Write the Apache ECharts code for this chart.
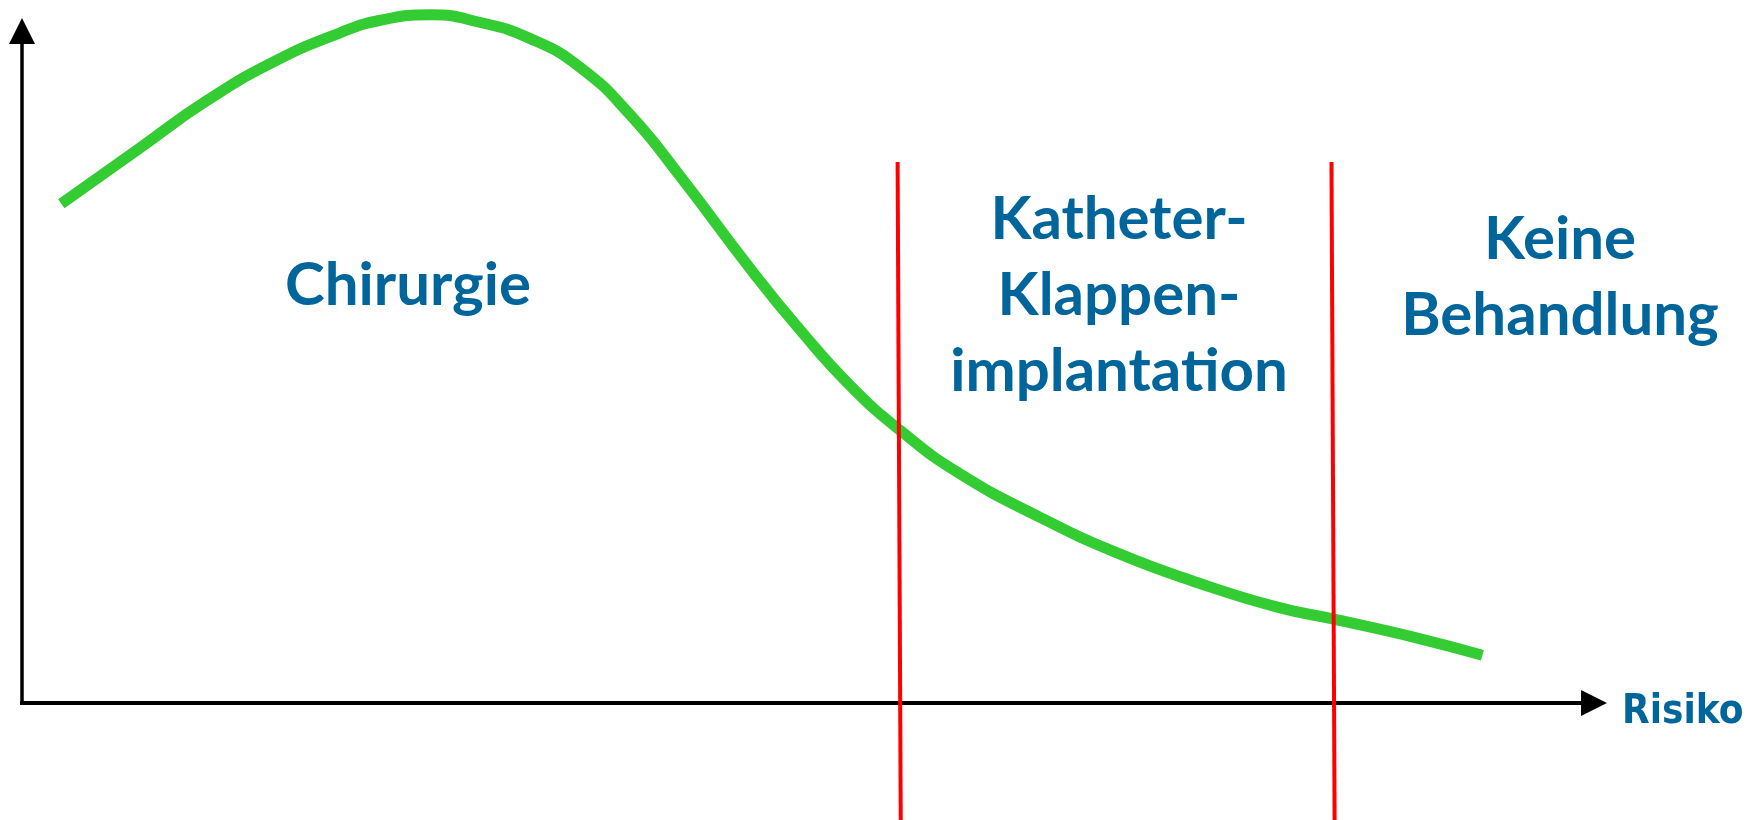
<!DOCTYPE html>
<html>
<head>
<meta charset="utf-8">
<script src="https://cdn.jsdelivr.net/npm/echarts@6/dist/echarts.min.js"></script>
<style>
  html, body { margin: 0; padding: 0; background: #fff; }
  #main { width: 1751px; height: 820px; }
</style>
</head>
<body>
<div id="main"></div>
<script>
// Kurve: Risiko (x) gegen Wert (y), 0..100 in beiden Richtungen
var curveRisk  = [2.5, 7.5, 11.8, 16.0, 20.2, 22.8, 26.0, 29.1, 32.3, 35.5, 38.7, 41.9, 46.3, 49.5, 52.7, 55.9, 59.6, 64.7, 69.7, 74.8, 79.8, 83.6, 88.7, 92.9];
var curveValue = [74.3, 82.6, 89.7, 95.4, 99.7, 101.6, 102.4, 101.3, 98.9, 94.6, 87.5, 78.3, 64.7, 55.5, 47.2, 40.5, 34.2, 27.7, 22.3, 17.9, 14.3, 12.4, 9.7, 7.1];

// Grenzlinien zwischen den Bereichen (oben / unten)
var borderRiskTop    = [55.7, 83.3];
var borderRiskBottom = [55.9, 83.5];
var borderValue      = [80.5, -17.4];

var zoneLabels = ['Chirurgie', 'Katheter-\nKlappen-\nimplantation', 'Keine\nBehandlung'];
var axisName = 'Risiko';

var blue = '#00659a';

var myChart = echarts.init(document.getElementById('main'));

var curveData = curveRisk.map(function (x, i) { return [x, curveValue[i]]; });

var borderSeries = borderRiskTop.map(function (x, i) {
    return {
        type: 'line',
        clip: false,
        symbol: 'none',
        silent: true,
        z: 5,
        lineStyle: { color: '#ff0000', width: 4 },
        data: [[x, borderValue[0]], [borderRiskBottom[i], borderValue[1]]]
    };
});

var labelFont = { fill: blue, fontFamily: 'Lato', fontWeight: 'bold', fontSize: 60, lineHeight: 76, align: 'center', verticalAlign: 'middle' };

var option = {
    backgroundColor: '#fff',
    animation: false,
    grid: { left: 22, right: 157, top: 31, bottom: 117, outerBoundsMode: 'none' },
    xAxis: {
        type: 'value',
        min: 0,
        max: 100,
        axisLine: {
            lineStyle: { color: '#000', width: 4, cap: 'square' },
            symbol: ['none', 'triangle'],
            symbolSize: [26, 26]
        },
        axisTick: { show: false },
        axisLabel: { show: false },
        splitLine: { show: false }
    },
    yAxis: {
        type: 'value',
        min: 0,
        max: 100,
        axisLine: {
            show: true,
            lineStyle: { color: '#000', width: 3.5, cap: 'square' },
            symbol: ['none', 'triangle'],
            symbolSize: [26, 26]
        },
        axisTick: { show: false },
        axisLabel: { show: false },
        splitLine: { show: false }
    },
    series: [{
        type: 'line',
        clip: false,
        smooth: 0.5,
        symbol: 'none',
        z: 3,
        lineStyle: { color: '#33cc33', width: 11 },
        data: curveData
    }].concat(borderSeries),
    graphic: [
        { type: 'text', x: 408, y: 286, style: Object.assign({ text: zoneLabels[0] }, labelFont) },
        { type: 'text', x: 1119, y: 296, style: Object.assign({ text: zoneLabels[1] }, labelFont) },
        { type: 'text', x: 1560, y: 278, style: Object.assign({ text: zoneLabels[2] }, labelFont) },
        {
            type: 'text', x: 1622, y: 713,
            style: {
                text: axisName, fill: blue, fontWeight: 'bold', fontSize: 40,
                fontFamily: '"Liberation Sans Narrow", "DejaVu Sans Condensed", Arial, sans-serif',
                align: 'left', verticalAlign: 'middle'
            }
        }
    ]
};
myChart.setOption(option);
</script>
</body>
</html>
